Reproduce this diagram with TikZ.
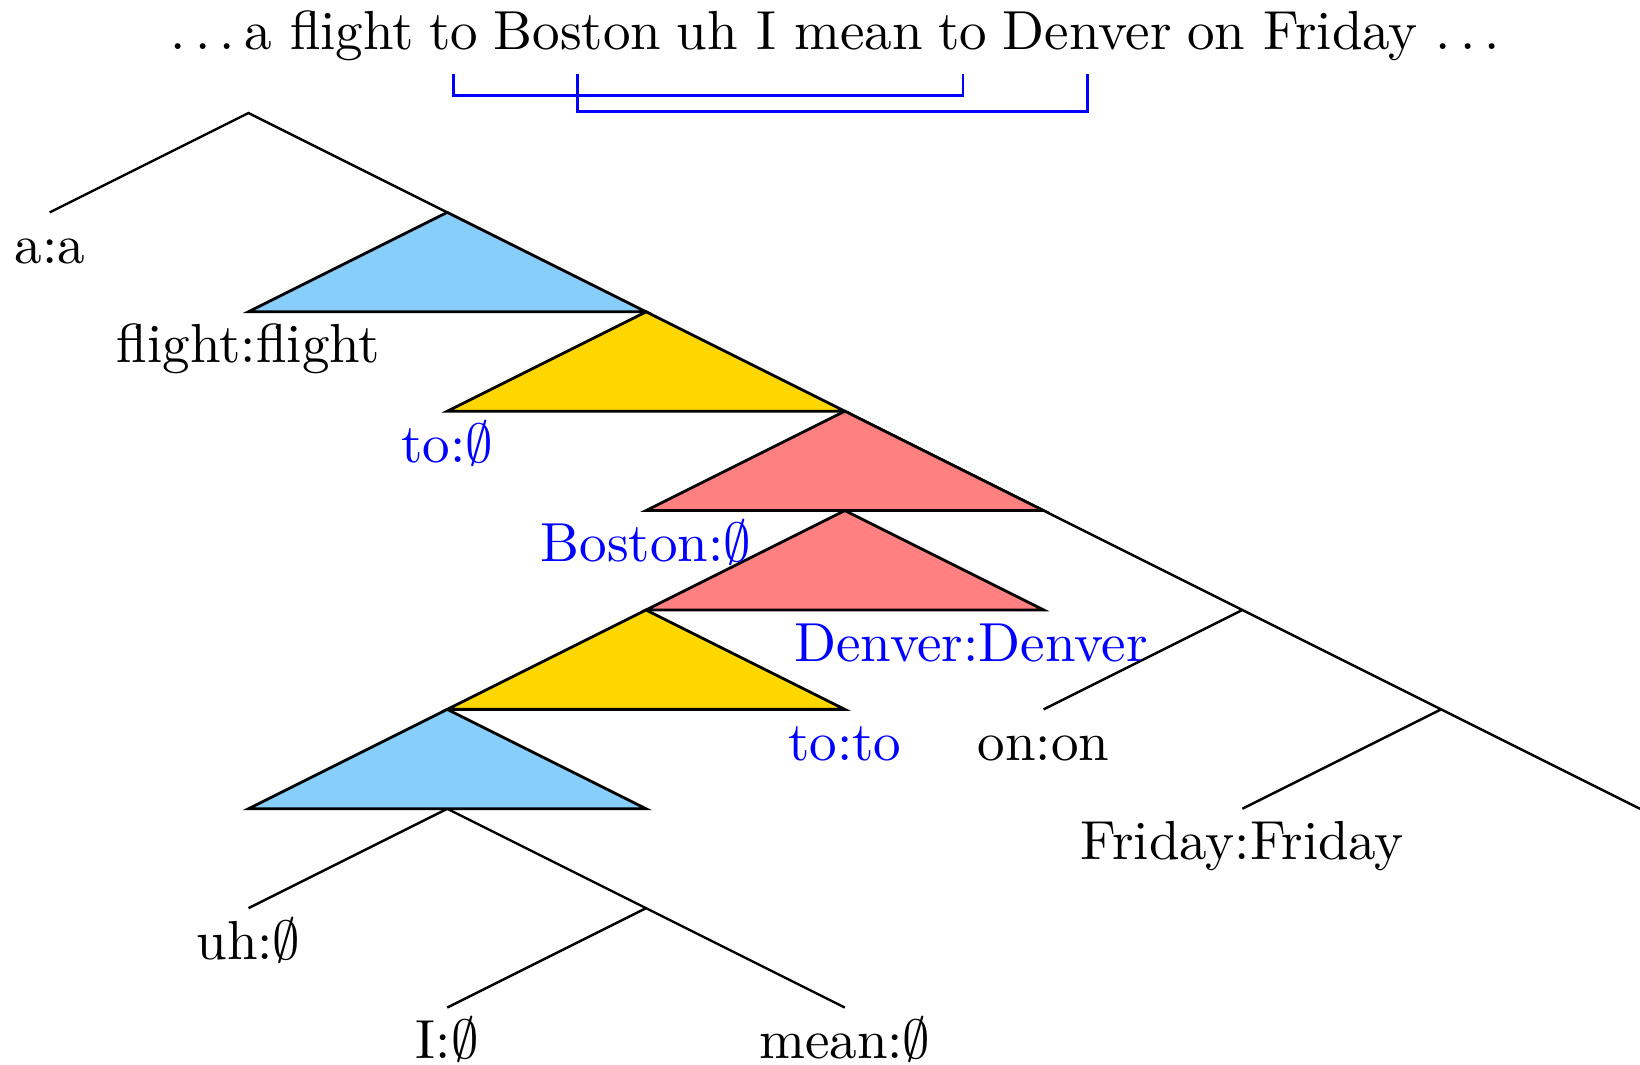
\documentclass[tikz,border=0pt]{standalone}
\usepackage{amsmath,amssymb}
\usetikzlibrary{positioning}

\definecolor{triblue}{RGB}{135,206,250}
\definecolor{trigold}{RGB}{255,215,0}
\definecolor{trired}{RGB}{255,128,128}
\newcommand{\txtdots}{.\kern\fontdimen3\font.\kern\fontdimen3\font.\kern\fontdimen3\font}

\begin{document}
\begin{tikzpicture}[
    every path/.style       = {line width=0.7pt},
    tri/.style              = {draw, line width=0.8pt, line join=miter},
    lbl/.style              = {scale=1.575, inner sep=0.333em, text height=1.3ex, text depth=.25ex},
    lblblue/.style          = {lbl, text=blue},
    word/.style             = {scale=1.575, inner xsep=0pt, inner ysep=4.06pt},
    bracket/.style          = {draw=blue, line width=0.8pt}
    ]
      \useasboundingbox (-2.5,-9.578) rectangle (14,1.137);

      % sentence -------------------------------------------------
      \node[word, anchor=base west] (pre) at (-0.8,0.64) {\txtdots a flight};
      \node[word, base right=3.33pt of pre]    (to1)    {to};
      \node[word, base right=3.33pt of to1]    (boston) {Boston};
      \node[word, base right=3.33pt of boston] (mid)    {uh I mean};
      \node[word, base right=3.33pt of mid]    (to2)    {to};
      \node[word, base right=3.33pt of to2]    (denver) {Denver};
      \node[word, base right=3.33pt of denver] (post)   {on Friday \txtdots};

      \draw[bracket] (to1.south) -- ++(0,-0.21) -| (to2.south);
      \draw[bracket] (boston.south) -- ++(0,-0.378) -| (denver.south);

      % tree points ----------------------------------------------
      \coordinate (r)   at (0,0);
      \coordinate (s1)  at (2,-1);
      \coordinate (s2)  at (4,-2);
      \coordinate (s3)  at (6,-3);
      \coordinate (s4)  at (8,-4);
      \coordinate (s5)  at (10,-5);
      \coordinate (s6)  at (12,-6);
      \coordinate (s7)  at (14,-7);
      \coordinate (a)   at (-2,-1);
      \coordinate (t1l) at (0,-2);
      \coordinate (t2l) at (2,-3);
      \coordinate (t3l) at (4,-4);
      \coordinate (t4a) at (6,-4);
      \coordinate (t4l) at (4,-5);
      \coordinate (t4r) at (8,-5);
      \coordinate (t5l) at (2,-6);
      \coordinate (t5r) at (6,-6);
      \coordinate (t6l) at (0,-7);
      \coordinate (t6m) at (2,-7);
      \coordinate (t6r) at (4,-7);
      \coordinate (uh)  at (0,-8);
      \coordinate (b1)  at (4,-8);
      \coordinate (i)   at (2,-9);
      \coordinate (mean) at (6,-9);
      \coordinate (on)  at (8,-6);
      \coordinate (fri) at (10,-7);

      % edges ----------------------------------------------------
      \draw (a) -- (r) -- (s1)
            (s3) -- (s4) -- (s5) -- (s6) -- (s7)
            (s5) -- (on)
            (s6) -- (fri)
            (uh) -- (t6m) -- (b1)
            (i) -- (b1) -- (mean);

      % triangles ------------------------------------------------
      \filldraw[tri, fill=triblue] (s1) -- (t1l) -- (s2) -- cycle;
      \filldraw[tri, fill=trigold] (s2) -- (t2l) -- (s3) -- cycle;
      \filldraw[tri, fill=trired]  (s3) -- (t3l) -- (s4) -- cycle;
      \filldraw[tri, fill=trired]  (t4a) -- (t4l) -- (t4r) -- cycle;
      \filldraw[tri, fill=trigold] (t4l) -- (t5l) -- (t5r) -- cycle;
      \filldraw[tri, fill=triblue] (t5l) -- (t6l) -- (t6r) -- cycle;

      % labels ---------------------------------------------------
      \node[lbl, below=0pt of a]       (la)      {a:a};
      \node[lbl, below=0pt of t1l]     (lflight) {flight:flight};
      \node[lblblue, below=0pt of t2l] (lto1)    {to:$\emptyset$};
      \node[lblblue, below=0pt of t3l] (lboston) {Boston:$\emptyset$};
      \node[lblblue, below=0pt of t4r, xshift=-0.463cm] (ldenver) {Denver:Denver};
      \node[lblblue, below=0pt of t5r] (lto2)    {to:to};
      \node[lbl, below=0pt of on]      (lon)     {on:on};
      \node[lbl, below=0pt of fri]     (lfri)    {Friday:Friday};
      \node[lbl, below=0pt of uh]      (luh)     {uh:$\emptyset$};
      \node[lbl, below=0pt of i]       (li)      {I:$\emptyset$};
      \node[lbl, below=0pt of mean]    (lmean)   {mean:$\emptyset$};
\end{tikzpicture}
\end{document}
